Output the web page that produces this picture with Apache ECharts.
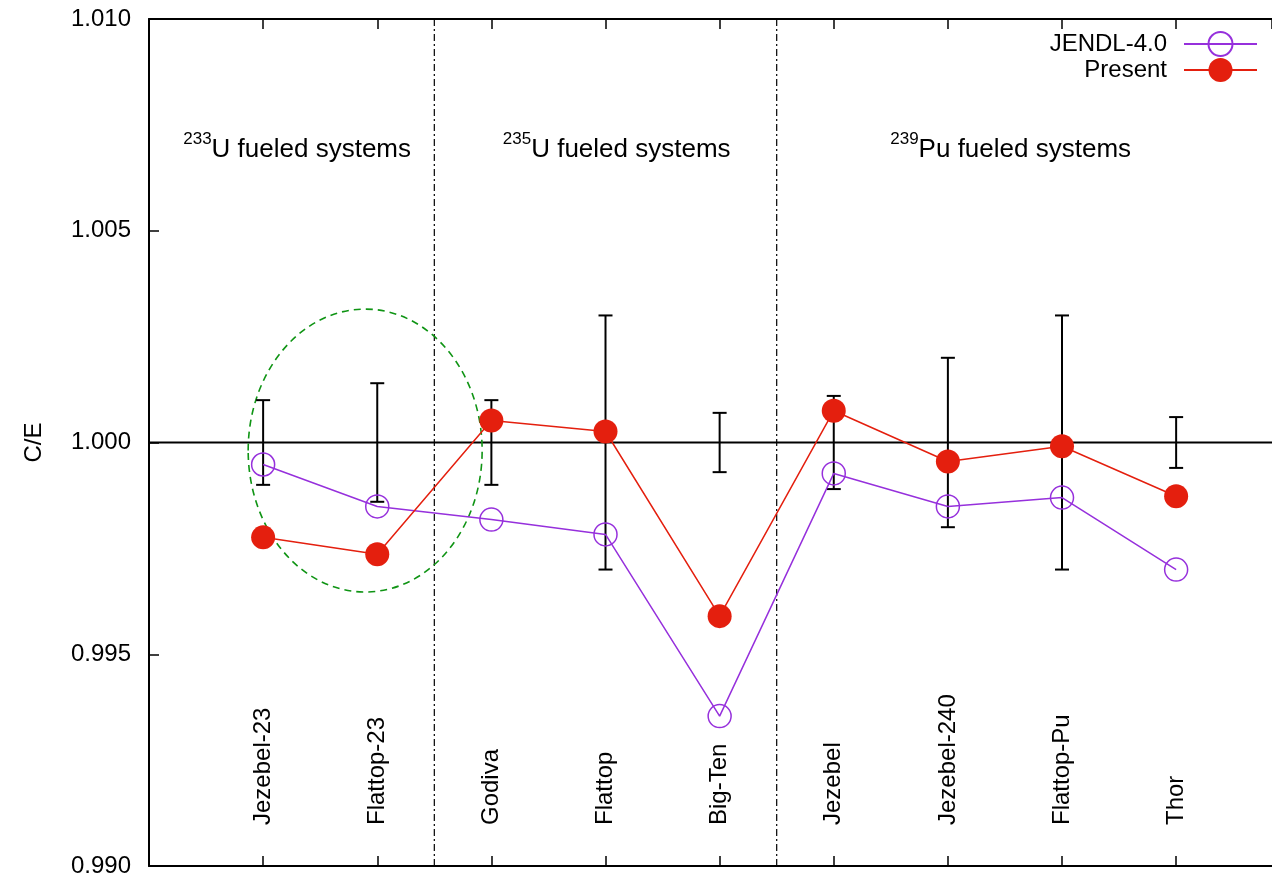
<!DOCTYPE html>
<html><head><meta charset="utf-8">
<script src="https://cdn.jsdelivr.net/npm/echarts@6/dist/echarts.min.js"></script>
<style>html,body{margin:0;padding:0;background:#fff}#c{width:1272px;height:878px}</style>
</head><body><div id="c"></div>
<script>
// ---- data ----
const categories = ['Jezebel-23','Flattop-23','Godiva','Flattop','Big-Ten','Jezebel','Jezebel-240','Flattop-Pu','Thor'];
const jendl   = [0.99948,0.99849,0.99818,0.99783,0.99354,0.99927,0.99849,0.99870,0.99700];
const present = [0.99776,0.99736,1.00052,1.00026,0.99590,1.00075,0.99955,0.99991,0.99873];
const expUnc  = [0.0010,0.0014,0.0010,0.0030,0.0007,0.0011,0.0020,0.0030,0.0006];
const yTicks  = [0.990,0.995,1.000,1.005,1.010];
const groupSeparators = [1.5, 4.5];
const groupSup  = ['233','235','239'];
const groupMain = ['U fueled systems','U fueled systems','Pu fueled systems'];

// ---- annotation placement (data coords) ----
const groupAnchorX = [-0.70, 2.10, 5.495];
const groupAnchorY = 1.0066;
const ellipseSpec = [0.894, 0.99981, 1.025, 0.00334]; // cx, cy, rx, ry

const FONT = "'Liberation Sans', Arial, Helvetica, sans-serif";
const PURPLE = '#9630dc', RED = '#e41f0e';

const chart = echarts.init(document.getElementById('c'), null, {renderer:'canvas'});
const xMin = -1, xMax = 8.84;

const tickStyle = {show: true, inside: true, length: 10, lineStyle: {color: '#000', width: 1.5}};
const lineAx = {show: true, onZero: false, lineStyle: {color: '#000', width: 2}};

const option = {
  animation: false,
  backgroundColor: '#fff',
  textStyle: {fontFamily: FONT},
  grid: {left: 149, right: 0, top: 19, bottom: 12},
  legend: {
    data: ['JENDL-4.0','Present'],
    orient: 'vertical', right: 14, top: 31, align: 'right', padding: 0,
    itemWidth: 73, itemHeight: 30, itemGap: 1,
    textStyle: {fontSize: 24, color: '#000', fontFamily: FONT, padding: [0, 12, 0, 0]}
  },
  xAxis: [{
    type: 'value', min: xMin, max: xMax, interval: 1, position: 'bottom',
    axisLine: lineAx, axisTick: tickStyle, splitLine: {show: false},
    axisLabel: {
      inside: true, rotate: 90, margin: 41, fontSize: 24, color: '#000', fontFamily: FONT,
      showMinLabel: false, showMaxLabel: false,
      formatter: v => (Number.isInteger(v) && v >= 0 && v < categories.length) ? categories[v] : ''
    }
  }, {
    type: 'value', min: xMin, max: xMax, interval: 1, position: 'top',
    axisLine: lineAx, axisTick: tickStyle, splitLine: {show: false}, axisLabel: {show: false}
  }],
  yAxis: [{
    type: 'value', min: yTicks[0], max: yTicks[yTicks.length-1], interval: 0.005,
    name: 'C/E', nameLocation: 'middle', nameGap: 103, nameRotate: 90,
    nameTextStyle: {fontSize: 24, color: '#000', fontFamily: FONT},
    axisLine: lineAx, axisTick: tickStyle, splitLine: {show: false},
    axisLabel: {fontSize: 24, color: '#000', margin: 18, fontFamily: FONT, formatter: v => v.toFixed(3)}
  }],
  series: [
    { // reference line at 1.000 and group separators
      type: 'custom', name: 'frame', z: 1, silent: true,
      data: groupSeparators.map(x => [x, 1.0]),
      encode: {x: 0, y: 1},
      renderItem: (params, api) => {
        const cs = params.coordSys;
        const px = api.coord([api.value(0), api.value(1)]);
        const children = [{
          type: 'line',
          shape: {x1: px[0], y1: cs.y, x2: px[0], y2: cs.y + cs.height},
          style: {stroke: '#000', lineWidth: 1.2, lineDash: [7,3,2,3]}
        }];
        if (params.dataIndex === 0) {
          children.push({
            type: 'line',
            shape: {x1: cs.x, y1: px[1], x2: cs.x + cs.width, y2: px[1]},
            style: {stroke: '#000', lineWidth: 2}
          });
        }
        return {type: 'group', children};
      }
    },
    { // dashed green ellipse
      type: 'custom', name: 'ellipse', z: 1, silent: true,
      data: [ellipseSpec],
      encode: {x: 0, y: 1},
      renderItem: (params, api) => {
        const c = api.coord([api.value(0), api.value(1)]);
        const rx = api.size([api.value(2), 0])[0];
        const ry = api.size([0, api.value(3)])[1];
        return {
          type: 'ellipse',
          shape: {cx: c[0], cy: c[1], rx: rx, ry: ry},
          style: {fill: null, stroke: '#0f9414', lineWidth: 1.6, lineDash: [7,5]}
        };
      }
    },
    { // experimental uncertainty bars
      type: 'custom', name: 'Experiment', z: 2, silent: true,
      data: expUnc.map((u, i) => [i, 1 - u, 1 + u]),
      encode: {x: 0, y: [1, 2]},
      renderItem: (params, api) => {
        const x = api.value(0);
        const p1 = api.coord([x, api.value(1)]);
        const p2 = api.coord([x, api.value(2)]);
        const w = 7;
        const st = {stroke: '#000', lineWidth: 2};
        return {type: 'group', children: [
          {type: 'line', shape: {x1: p1[0], y1: p1[1], x2: p2[0], y2: p2[1]}, style: st},
          {type: 'line', shape: {x1: p1[0]-w, y1: p1[1], x2: p1[0]+w, y2: p1[1]}, style: st},
          {type: 'line', shape: {x1: p2[0]-w, y1: p2[1], x2: p2[0]+w, y2: p2[1]}, style: st}
        ]};
      }
    },
    {
      type: 'line', name: 'JENDL-4.0', z: 3,
      data: jendl.map((v, i) => [i, v]),
      symbol: 'circle', symbolSize: 23,
      lineStyle: {color: PURPLE, width: 1.5},
      itemStyle: {color: 'rgba(0,0,0,0)', borderColor: PURPLE, borderWidth: 1.5}
    },
    {
      type: 'line', name: 'Present', z: 4,
      data: present.map((v, i) => [i, v]),
      symbol: 'circle', symbolSize: 24,
      lineStyle: {color: RED, width: 1.5},
      itemStyle: {color: RED}
    },
    { // group titles
      type: 'custom', name: 'groups', z: 5, silent: true,
      data: groupAnchorX.map(x => [x, groupAnchorY]),
      encode: {x: 0, y: 1},
      renderItem: (params, api) => {
        const p = api.coord([api.value(0), api.value(1)]);
        const i = params.dataIndex;
        return {
          type: 'text', x: p[0], y: p[1],
          style: {
            text: '{sup|' + groupSup[i] + '}{main|' + groupMain[i] + '}',
            rich: {
              sup: {fontSize: 17, fontFamily: FONT, fill: '#000', verticalAlign: 'top', lineHeight: 32},
              main: {fontSize: 26, fontFamily: FONT, fill: '#000', verticalAlign: 'bottom', lineHeight: 32}
            },
            align: 'left', verticalAlign: 'bottom'
          }
        };
      }
    }
  ]
};
chart.setOption(option);
</script>
</body></html>
